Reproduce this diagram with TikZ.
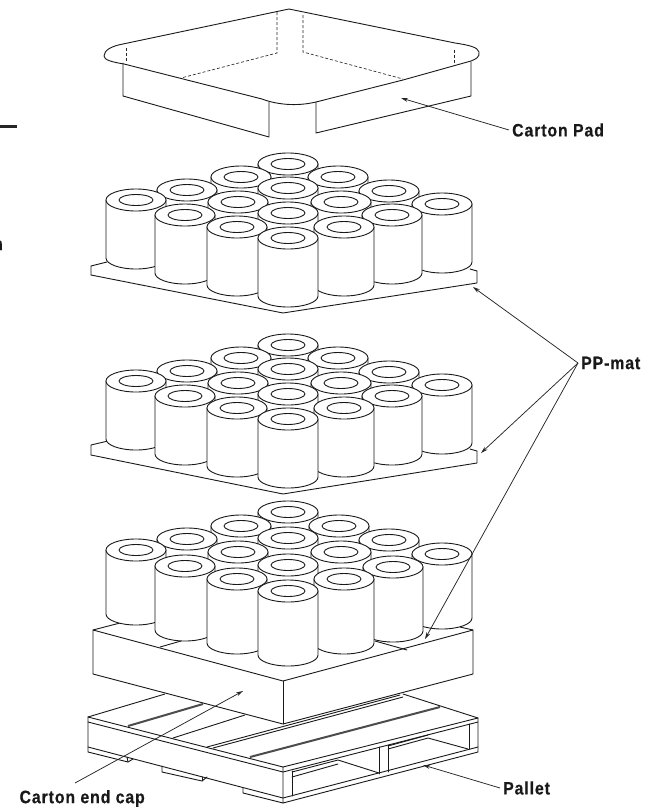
\documentclass[tikz,border=0pt]{standalone}
\usepackage{fontspec}
\setmainfont{Liberation Sans}
\newfontfamily\labfont[FakeStretch=0.88,LetterSpace=5,BoldFeatures={FakeBold=0.5}]{Liberation Sans}
\usetikzlibrary{arrows.meta}
\tikzset{
  ln/.style={line width=.9pt,line join=round,line cap=round,black!90},
  dash ln/.style={line width=.65pt,dash pattern=on 3pt off 2pt,black!85},
  hatch/.style={line width=2pt,black!70},
  rollbody/.style={ln,fill=white},
  arr/.style={line width=.75pt,black!85,-{Stealth[length=7pt,width=4pt]}},
  lab/.style={font=\labfont\bfseries\fontsize{18}{18}\selectfont,inner sep=3pt,black!90}
}
\newcommand{\rollat}[3]{%
  \draw[rollbody] ({#1-30},#2) -- ({#1-30},{#2+#3}) arc[start angle=180,end angle=360,x radius=30pt,y radius=11pt] -- ({#1+30},#2) -- cycle;
  \draw[rollbody] (#1,#2) ellipse[x radius=30pt,y radius=11pt];
  \draw[ln] (#1,#2) ellipse[x radius=17pt,y radius=5.5pt];
}
\begin{document}
\begin{tikzpicture}[x=1pt,y=-1pt]
\useasboundingbox (0,0) rectangle (646,809);
% stray margin marks
\draw[line width=3pt,black!85] (0,126) -- (17,126);
\node[lab,anchor=base east,inner sep=0pt] (cutn) at (3,250) {n};
% carton pad
\draw[ln] (123,63) -- (123,96) -- (269,137) -- (269,102);
\draw[ln] (316,102) -- (316,133) -- (471,96) -- (471,62);
\draw[dash ln] (277,12) -- (277,53) -- (181,78);
\draw[dash ln] (303,15) -- (303,52) -- (403,79);
\draw[dash ln] (126,48) -- (126,62);
\draw[dash ln] (454,50) -- (454,65);
\draw[ln] (289,9) -- (123,44) .. controls (112,46) and (104,50) .. (104,56)
  .. controls (104,60) and (112,62) .. (124,64) -- (262,99)
  .. controls (275,104) and (295,107) .. (316,102) -- (403,80) -- (471,61)
  .. controls (476,59) and (480,57) .. (479,52) .. controls (478,47) and (468,45) .. (455,43) -- cycle;
% layer 1
\draw[ln] (91,275) -- (91,266) -- (107,262);
\draw[ln] (477,271) -- (477,283) -- (283,313) -- (91,275);
\draw[ln] (477,271) -- (470,269);
\foreach \a/\b in {288/345,241/358,338/358,187/371,288/369,389/372,136/381,238/383,341/383,442/385,185/396,288/394,392/396,237/408,344/408,288/419}{
  \pgfmathsetmacro{\bb}{\b-181}
  \rollat{\a}{\bb}{58}
}
% layer 2
\draw[ln] (91,455) -- (91,445) -- (108,441);
\draw[ln] (477,451) -- (477,463) -- (283,494) -- (91,455);
\draw[ln] (477,451) -- (470,449);
\foreach \a/\b in {288/345,241/358,338/358,187/371,288/369,389/372,136/381,238/383,341/383,442/385,185/396,288/394,392/396,237/408,344/408,288/419}{
  \rollat{\a}{\b}{58}
}
% pallet
\draw[ln] (88,717) -- (165,694);
\draw[ln] (403,694) -- (478,718);
\draw[ln] (88,717) -- (283,767) -- (478,718) -- (478,752) -- (283,803) -- (283,767);
\draw[ln] (88,722) -- (283,772) -- (478,722);
\draw[ln] (88,717) -- (88,752) -- (128,762) -- (133,759);
\draw[ln] (127,757) -- (128,762);
\draw[ln] (88,747) -- (283,798) -- (478,747);
\draw[ln] (162,766) -- (162,772) -- (202,781) -- (207,777);
\draw[ln] (202,777) -- (202,781);
\draw[ln] (243,788) -- (243,793) -- (283,803);
\draw[hatch] (128,726) -- (203,704);
\draw[hatch] (250,757) -- (440,707);
\draw[ln] (173,738) -- (245,715);
\draw[ln] (207,747) -- (400,695);
\draw[ln] (213,748) -- (403,697);
\draw[ln] (292,771) -- (292,796);
\draw[ln] (379,747) -- (379,774);
\draw[ln] (388,745) -- (388,772);
\draw[ln] (469,724) -- (469,749);
\draw[ln] (292,772) -- (338,760) -- (379,773);
\draw[ln] (292,777) -- (338,764);
\draw[ln] (388,746) -- (428,735);
\draw[ln] (388,749) -- (428,738) -- (468,749);
% end cap box
\draw[ln,fill=white] (93,630) -- (283,681) -- (473,630) -- (473,674) -- (283,724) -- (93,674) -- cycle;
\draw[ln] (283,681) -- (283,724);
\draw[ln] (93,630) -- (120,623);
\draw[ln] (473,630) -- (460,627);
\draw[ln] (160,647) -- (181,641);
\draw[ln] (375,641) -- (407,650);
% layer 3
\foreach \a/\b in {288/512,241/526,339/526,187/539,288/538,389/540,136/550,238/552,341/552,442/554,185/566,288/565,393/567,237/579,344/579,288/591}{
  \rollat{\a}{\b}{64}
}
% labels
\node[lab,anchor=west] (padlab) at (509,130) {Carton Pad};
\node[lab,anchor=west] (pplab) at (578,363) {PP-mat};
\node[lab,anchor=west] (pallab) at (500,788) {Pallet};
\node[lab,anchor=east] (caplab) at (148,798.5) {Carton end cap};
% connectors
\coordinate (padtip) at (401,98);
\coordinate (mattip1) at (473,287);
\coordinate (mattip2) at (481,453);
\coordinate (mattip3) at (425,639);
\coordinate (pallettip) at (423,765);
\coordinate (captip) at (243,691);
\coordinate (capfoot) at (75,783);
\draw[arr] (padlab.west) -- (padtip);
\draw[arr] (pplab.west) -- (mattip1);
\draw[arr] (pplab.west) -- (mattip2);
\draw[arr] (pplab.west) -- (mattip3);
\draw[arr] (pallab.west) -- (pallettip);
\draw[arr] (capfoot) -- (captip);
\end{tikzpicture}
\end{document}
